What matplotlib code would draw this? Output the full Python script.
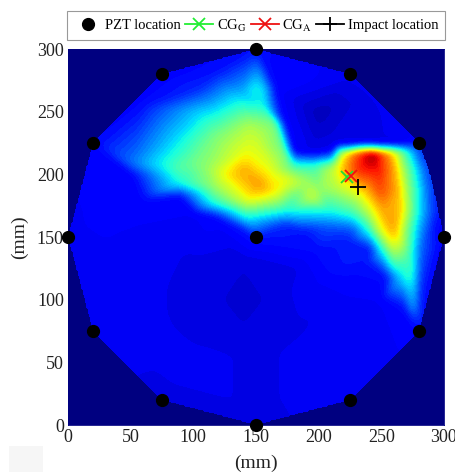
import matplotlib
matplotlib.use('Agg')
import matplotlib.pyplot as plt
import matplotlib.tri as mtri
import numpy as np
from matplotlib.patches import Rectangle

plt.rcParams['font.family'] = ['Liberation Serif', 'DejaVu Serif']
plt.rcParams['mathtext.fontset'] = 'stix'

# sensores en el borde y en el centro
pzt_x = [150, 225, 280, 300, 280, 225, 150, 75, 20, 0, 20, 75, 150]
pzt_y = [300, 280, 225, 150, 75, 20, 0, 20, 75, 150, 225, 280, 150]
pzt_z = [0.13, 0.10, 0.13, 0.10, 0.12, 0.10, 0.09, 0.09, 0.10, 0.10, 0.12, 0.11, 0.14]

# valores (0 azul oscuro, 1 rojo oscuro)
campo_x = [
    # abanico superior izquierdo
    103, 119, 60, 84, 105, 135, 156, 100, 119, 145, 110, 130, 150, 120, 140,
    # borde inferior del abanico
    50, 89, 116, 143, 175, 209, 50, 89, 116, 143, 175, 205, 89, 116, 143,
    # mancha central
    153, 140, 160, 177, 153, 142, 130, 145, 165, 190, 200,
    # borde derecho del abanico y muesca azul
    150, 158, 165, 165, 172, 172, 180, 180, 196, 196, 196, 196, 212, 212,
    195, 215, 214, 230, 245, 260, 272, 240, 265, 200,
    # zona caliente
    217, 228, 243, 255, 262, 270,
    214, 220, 231, 247, 261, 266, 277, 288,
    214, 228, 239, 249, 263, 270, 281, 292,
    228, 241, 252, 265, 273, 284, 295,
    228, 239, 249, 260, 270, 281, 292,
    242, 249, 260, 270, 281,
    254, 265, 273, 281,
    270, 275, 281,
    # mitad inferior
    170, 200, 225, 190, 220, 240, 200, 225, 250, 60, 100, 140, 180, 220, 50, 100, 140, 180,
    220, 250, 100, 150, 200, 40, 30, 60, 100, 120, 160, 140, 30, 60,
]
campo_y = [
    # abanico superior izquierdo
    267, 281, 255, 227, 249, 257, 255, 209, 230, 238, 205, 212, 225, 245, 265,
    # borde inferior del abanico
    210, 193, 177, 166, 171, 171.5, 200, 183, 167, 155, 160, 158, 205, 190, 178,
    # mancha central
    191, 203, 202, 195, 181, 218, 200, 182, 187, 193, 188,
    # borde derecho del abanico y muesca azul
    268, 268, 268, 241, 241, 220, 218, 205, 182, 171.5, 205, 210, 218, 205,
    217, 224, 224, 224, 224, 224, 224, 260, 240, 249,
    # zona caliente
    217, 217, 217, 217, 217, 217,
    203.5, 203.5, 203.5, 203.5, 203.5, 203.5, 203.5, 203.5,
    187.5, 187.5, 187.5, 187.5, 187.5, 187.5, 187.5, 187.5,
    171.5, 171.5, 171.5, 171.5, 171.5, 171.5, 171.5,
    155.5, 155.5, 155.5, 155.5, 155.5, 155.5, 155.5,
    139.6, 139.6, 139.6, 139.6, 139.6,
    118, 118, 118, 118,
    94, 94, 94,
    # mitad inferior
    145, 140, 148, 155, 125, 130, 115, 118, 100, 115, 130, 130, 125, 90, 160, 170, 100, 80,
    45, 45, 55, 55, 60, 185, 130, 85, 70, 100, 100, 75, 170, 180,
]
campo_z = [
    # abanico superior izquierdo
    0.16, 0.14, 0.13, 0.33, 0.33, 0.37, 0.37, 0.48, 0.50, 0.56, 0.52, 0.60, 0.60, 0.40, 0.30,
    # borde inferior del abanico
    0.23, 0.37, 0.37, 0.37, 0.37, 0.38, 0.11, 0.12, 0.12, 0.14, 0.16, 0.20, 0.45, 0.52, 0.60,
    # mancha central
    0.75, 0.73, 0.64, 0.62, 0.63, 0.63, 0.68, 0.66, 0.66, 0.55, 0.52,
    # borde derecho del abanico y muesca azul
    0.38, 0.30, 0.12, 0.48, 0.12, 0.48, 0.10, 0.45, 0.60, 0.38, 0.42, 0.30, 0.12, 0.58,
    0.09, 0.09, 0.09, 0.09, 0.09, 0.09, 0.10, 0.09, 0.10, 0.05,
    # zona caliente
    0.55, 0.78, 0.98, 0.76, 0.60, 0.40,
    0.60, 0.72, 0.86, 0.90, 0.72, 0.58, 0.36, 0.15,
    0.55, 0.62, 0.72, 0.84, 0.72, 0.55, 0.33, 0.14,
    0.45, 0.60, 0.74, 0.70, 0.50, 0.28, 0.13,
    0.20, 0.36, 0.60, 0.74, 0.50, 0.27, 0.13,
    0.14, 0.33, 0.58, 0.48, 0.22,
    0.13, 0.32, 0.42, 0.18,
    0.14, 0.30, 0.14,
    # mitad inferior
    0.13, 0.13, 0.15, 0.14, 0.14, 0.14, 0.11, 0.12, 0.11, 0.10, 0.09, 0.08, 0.09, 0.10, 0.11, 0.11, 0.07, 0.09,
    0.10, 0.10, 0.10, 0.09, 0.10, 0.12, 0.10, 0.10, 0.09, 0.08, 0.08, 0.08, 0.12, 0.12,
]

cg_g = (222.5, 198)
cg_a = (225.5, 199)
impacto = (231, 190)

ticks = [0, 50, 100, 150, 200, 250, 300]


# suavizado simple dentro del poligono
def suavizar(z, radio):
    valido = (~z.mask).astype(float)
    datos = z.filled(0.0)
    nucleo = np.ones(2 * radio + 1) / (2 * radio + 1)
    for _ in range(2):
        for eje in (0, 1):
            datos = np.apply_along_axis(np.convolve, eje, datos, nucleo, mode='same')
            valido = np.apply_along_axis(np.convolve, eje, valido, nucleo, mode='same')
    return np.ma.array(datos / np.maximum(valido, 1e-6), mask=z.mask)


fig = plt.figure(figsize=(4.56, 4.75), dpi=100)
ax = fig.add_axes([68 / 456, 50 / 475, 376 / 456, 376 / 475])
ax.set_facecolor(plt.cm.jet(0.0))

# triangulacion con todos los puntos, el casco convexo da el dodecagono
tri = mtri.Triangulation(pzt_x + campo_x, pzt_y + campo_y)
interp = mtri.LinearTriInterpolator(tri, pzt_z + campo_z)
gx, gy = np.meshgrid(np.arange(0, 301), np.arange(0, 301))
gz = suavizar(interp(gx, gy), 3)
niveles = [i / 64 for i in range(65)]
ax.contourf(gx, gy, gz.clip(0, 1), levels=niveles, cmap='jet', vmin=0, vmax=1)

ax.plot(pzt_x, pzt_y, 'o', color='black', ms=8.5, clip_on=False, zorder=5, ls='none')
ax.plot(*cg_g, marker='x', color='#22dd33', ms=8.5, mew=1.3, zorder=6)
ax.plot(*cg_a, marker='x', color='#ee1111', ms=8.5, mew=1.3, zorder=7)
ax.plot(*impacto, marker='+', color='black', ms=11, mew=1.3, zorder=8)

ax.set_xlim(0, 300)
ax.set_ylim(0, 300)
ax.set_xticks(ticks)
ax.set_yticks(ticks)
ax.tick_params(length=0, labelsize=13, pad=3, labelcolor='#222222')
ax.set_xlabel('(mm)', fontsize=14, labelpad=6, color='#222222')
ax.set_ylabel('(mm)', fontsize=14, labelpad=6, color='#222222')
for s in ax.spines.values():
    s.set_color('#000080')
    s.set_linewidth(0.6)

# leyenda con lineas, como en el original
handles = [
    plt.Line2D([], [], marker='o', color='black', ls='none', ms=8.5),
    plt.Line2D([], [], marker='x', color='#22ee33', lw=1.3, ms=8, mew=1.3),
    plt.Line2D([], [], marker='x', color='#ee1111', lw=1.3, ms=8, mew=1.3),
    plt.Line2D([], [], marker='+', color='black', lw=1.3, ms=10, mew=1.3),
]
etiquetas = ['PZT location', 'CG$_{\\mathrm{G}}$', 'CG$_{\\mathrm{A}}$', 'Impact location']
leg = fig.legend(handles, etiquetas, ncol=4, loc='center', bbox_to_anchor=(256 / 456, 1 - 25.5 / 475),
                 fontsize=10.5, frameon=True, fancybox=False, edgecolor='#999999', framealpha=1,
                 handlelength=1.9, handletextpad=0.25, columnspacing=0.3, borderpad=0.45, borderaxespad=0)
leg.get_frame().set_linewidth(0.8)

# recuadro claro abajo a la izquierda
fig.add_artist(Rectangle((9 / 456, 3 / 475), 34 / 456, 26 / 475, transform=fig.transFigure,
                         facecolor='#f6f6f6', edgecolor='none'))

fig.savefig('out.png', dpi=100)
